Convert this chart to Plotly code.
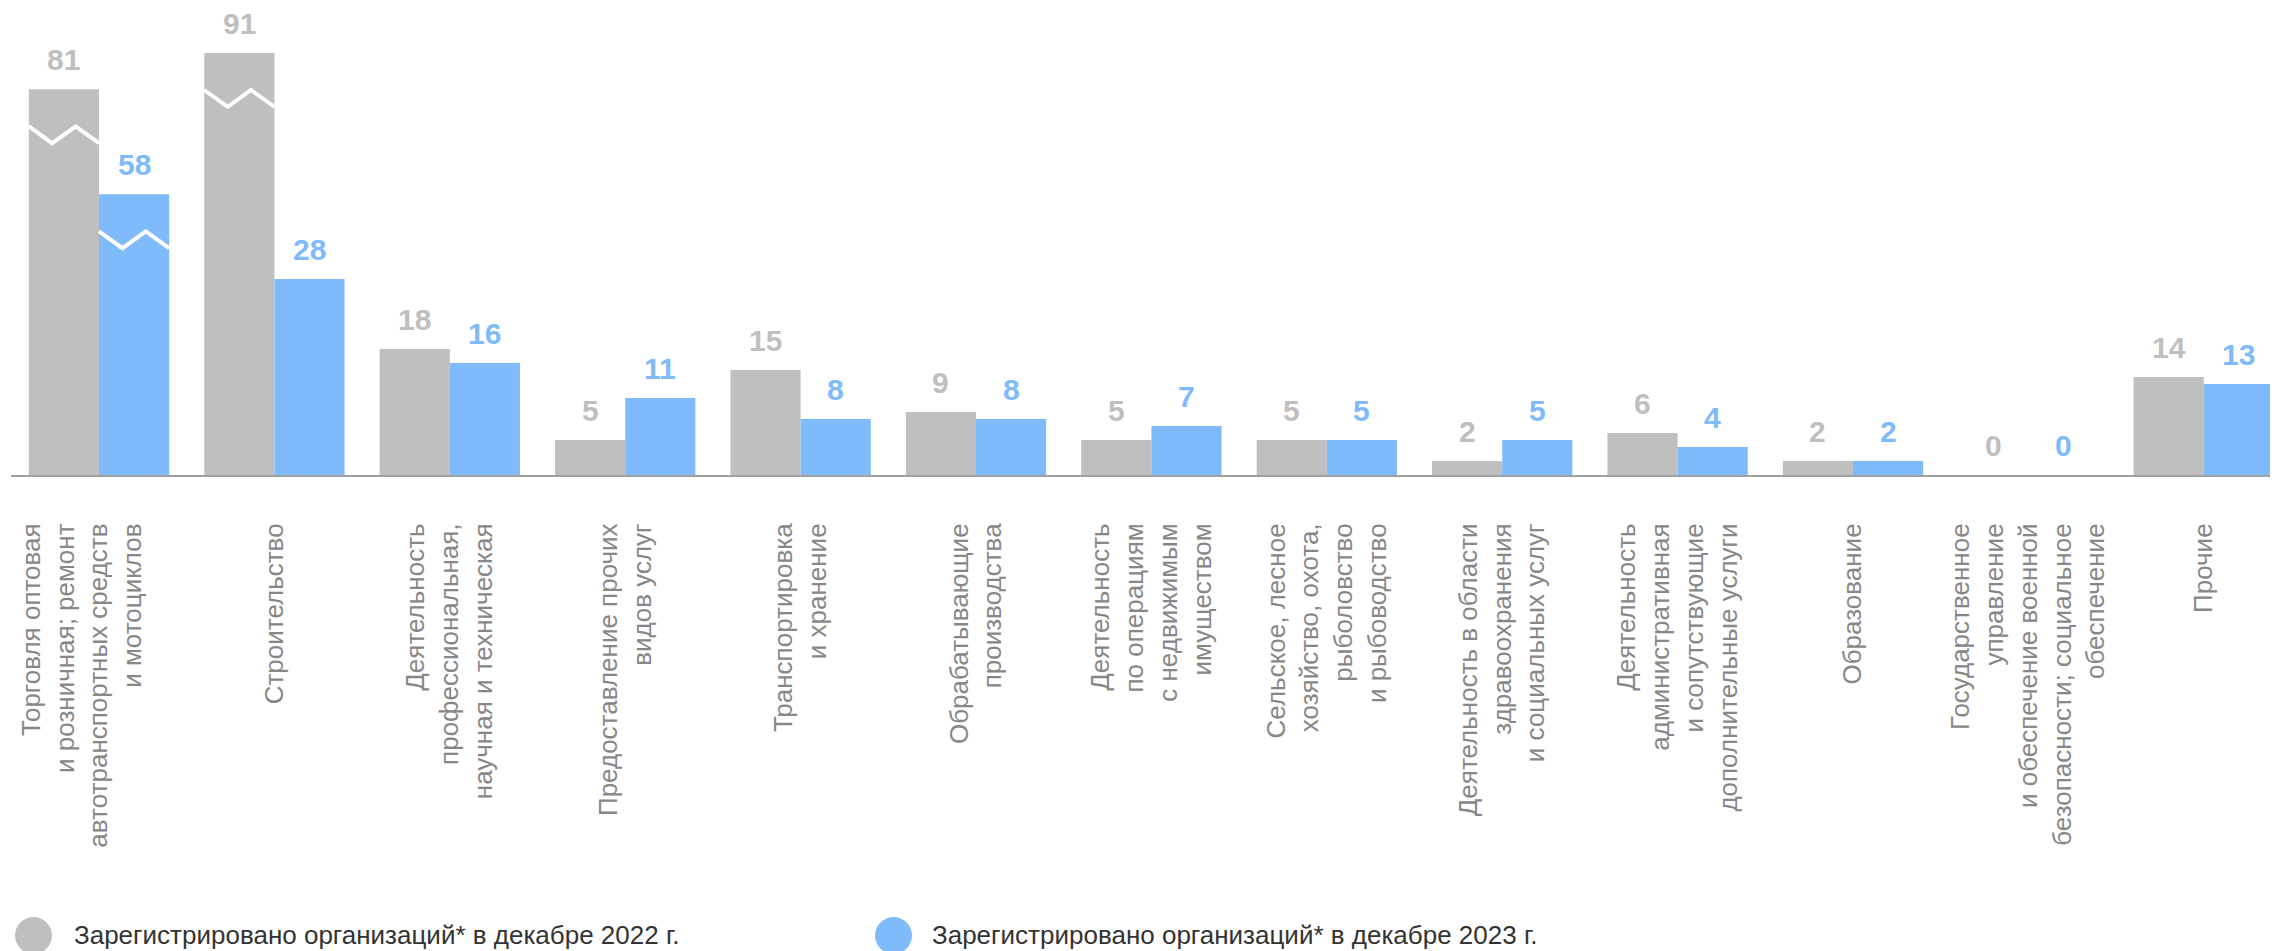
import plotly.graph_objects as go

# ---------------- data ----------------
categories = [
    "Торговля оптовая<br>и розничная; ремонт<br>автотранспортных средств<br>и мотоциклов<br> ",
    "Строительство",
    "Деятельность<br>профессиональная,<br>научная и техническая",
    "Предоставление прочих<br>видов услуг",
    "Транспортировка<br>и хранение",
    "Обрабатывающие<br>производства",
    "Деятельность<br>по операциям<br>с недвижимым<br>имуществом",
    "Сельское, лесное<br>хозяйство, охота,<br>рыболовство<br>и рыбоводство",
    "Деятельность в области<br>здравоохранения<br>и социальных услуг",
    "Деятельность<br>административная<br>и сопутствующие<br>дополнительные услуги",
    "Образование",
    "Государственное<br>управление<br>и обеспечение военной<br>безопасности; социальное<br>обеспечение",
    "Прочие",
]
values_2022 = [81, 91, 18, 5, 15, 9, 5, 5, 2, 6, 2, 0, 14]
values_2023 = [58, 28, 16, 11, 8, 8, 7, 5, 5, 4, 2, 0, 13]
# bars drawn shorter with a break mark (broken axis): index -> drawn height
broken_2022 = {0: 55.1, 1: 60.3}
broken_2023 = {0: 40.1}

series_names = [
    "Зарегистрировано организаций* в декабре 2022 г.",
    "Зарегистрировано организаций* в декабре 2023 г.",
]
colors = ["#BFBFBF", "#7FBBFA"]

# ---------------- layout constants ----------------
BODY = 8                      # default page margin of the html body
W, H = 2278 - BODY, 951 - BODY
ML, MR, MT = 3, 0, 0
PLOT_H = 475 - BODY           # axis baseline on the page at y=475
MB = H - MT - PLOT_H
PLOT_W = W - ML - MR
PX_PER_UNIT = 7.0
CAT_PX = 175.4
FIRST_CENTER_PX = 99 - BODY
x0 = -(FIRST_CENTER_PX - ML) / CAT_PX
x1 = x0 + PLOT_W / CAT_PX
ymax = PLOT_H / PX_PER_UNIT

FONT = "Liberation Sans, Arial, sans-serif"

def px(X):  # page pixel -> paper x
    return (X - BODY - ML) / PLOT_W

def py(Y):  # page pixel -> paper y
    return (PLOT_H + MT - (Y - BODY)) / PLOT_H

xs = list(range(len(categories)))
drawn_2022 = [broken_2022.get(i, v) for i, v in enumerate(values_2022)]
drawn_2023 = [broken_2023.get(i, v) for i, v in enumerate(values_2023)]

fig = go.Figure()
fig.add_trace(go.Bar(x=xs, y=drawn_2022, name=series_names[0],
                     marker=dict(color=colors[0], line=dict(width=0)),
                     showlegend=False, hoverinfo="skip"))
fig.add_trace(go.Bar(x=xs, y=drawn_2023, name=series_names[1],
                     marker=dict(color=colors[1], line=dict(width=0)),
                     showlegend=False, hoverinfo="skip"))

annotations = []
shapes = []
BAR_W = 0.4
for s, (vals, drawn, col, off) in enumerate([
        (values_2022, drawn_2022, colors[0], -BAR_W / 2),
        (values_2023, drawn_2023, colors[1], BAR_W / 2)]):
    for i, (v, d) in enumerate(zip(vals, drawn)):
        annotations.append(dict(
            x=i + off, y=d, xref="x", yref="y", text=f"<b>{v}</b>",
            showarrow=False, yanchor="bottom", xanchor="center", yshift=12,
            borderpad=0,
            font=dict(family=FONT, size=30, color=col)))

# break marks (white zigzags) on broken bars
for broken, drawn, off in [(broken_2022, drawn_2022, -BAR_W), (broken_2023, drawn_2023, 0.0)]:
    for i in broken:
        left = i + off
        hi = drawn[i] - 5.3
        lo = hi - 2.4
        pts = [(left, hi), (left + BAR_W / 3, lo), (left + 2 * BAR_W / 3, hi), (left + BAR_W, lo)]
        path = "M " + " L ".join(f"{a},{b}" for a, b in pts)
        shapes.append(dict(type="path", path=path, xref="x", yref="y",
                           line=dict(color="white", width=4)))

# manual legend (large circles)
legend_items = [(33.5, 72), (893.5, 930)]
for (cx, tx), name, col in zip(legend_items, series_names, colors):
    r = 18.5
    cy = 935.5
    shapes.append(dict(type="circle", xref="paper", yref="paper",
                       x0=px(cx - r), x1=px(cx + r), y0=py(cy + r), y1=py(cy - r),
                       fillcolor=col, line=dict(width=0)))
    annotations.append(dict(x=px(tx), y=py(935), xref="paper", yref="paper",
                            text=name, showarrow=False, xanchor="left", yanchor="middle",
                            font=dict(family=FONT, size=26, color="#333333")))

fig.update_layout(
    width=W, height=H,
    margin=dict(l=ML, r=MR, t=MT, b=MB, pad=0),
    paper_bgcolor="white", plot_bgcolor="white",
    barmode="group", bargap=0.2, bargroupgap=0,
    showlegend=False,
    annotations=annotations, shapes=shapes,
    font=dict(family=FONT),
)
fig.update_xaxes(
    type="linear", range=[x0, x1],
    tickmode="array", tickvals=xs, ticktext=categories,
    tickangle=-90, ticks="", ticklabelstandoff=36,
    tickfont=dict(family=FONT, size=26, color="#878787"),
    showline=True, linecolor="#A0A0A0", linewidth=2,
    showgrid=False, zeroline=False, fixedrange=True,
)
fig.update_yaxes(range=[0, ymax], visible=False, showgrid=False, zeroline=False)

fig.write_html("out.html")
